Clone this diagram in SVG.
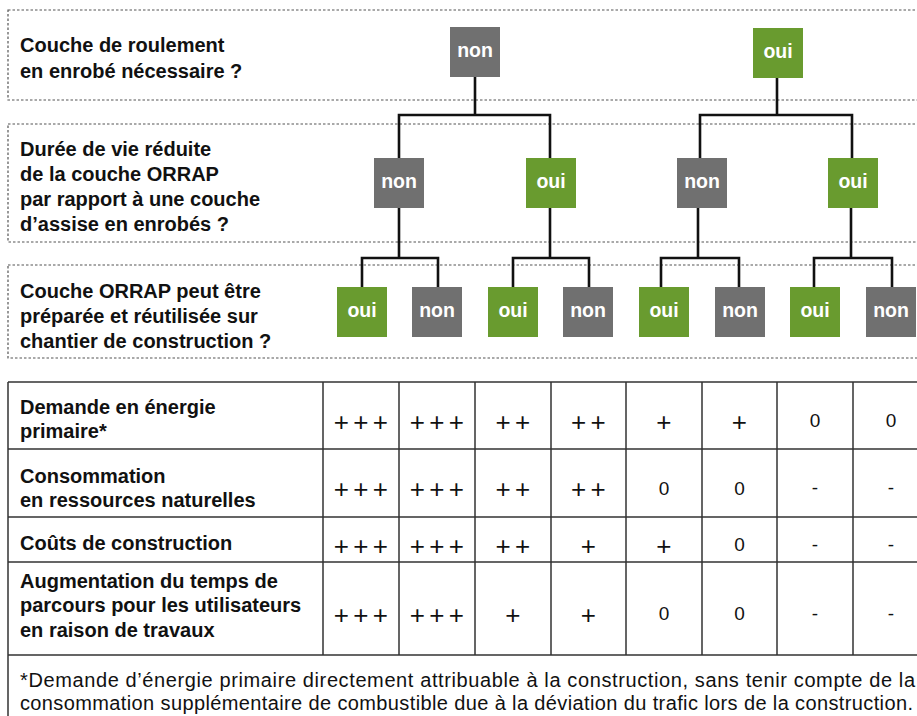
<svg xmlns="http://www.w3.org/2000/svg" width="917" height="716" viewBox="0 0 917 716">
<style>
.bg{fill:#ffffff}
.dash{fill:none;stroke:#555;stroke-width:1.2;stroke-dasharray:2.5 2}
.q{font-family:"Liberation Sans",Arial,sans-serif;font-weight:bold;font-size:20px;fill:#111}
.nn{fill:#707070}
.ny{fill:#699b2f}
.nt{font-family:"Liberation Sans",Arial,sans-serif;font-weight:bold;font-size:19.5px;fill:#fff;text-anchor:middle}
.con{fill:none;stroke:#111;stroke-width:2.6;stroke-linejoin:miter}
.tl{fill:none;stroke:#333;stroke-width:1.5}
.pl{font-family:"Liberation Sans",Arial,sans-serif;font-size:26px;letter-spacing:4.3px;fill:#111;text-anchor:middle}
.v{font-family:"Liberation Sans",Arial,sans-serif;font-size:19px;fill:#111;text-anchor:middle}
.fn{font-family:"Liberation Sans",Arial,sans-serif;font-size:20px;fill:#111}
</style>
<rect class="bg" x="0" y="0" width="917" height="716"/>

<g id="questions">
  <rect class="dash" x="8" y="10" width="1000" height="90"/>
  <rect class="dash" x="8" y="124" width="1000" height="118"/>
  <rect class="dash" x="8" y="265" width="1000" height="93"/>
</g>

<g id="q1">
  <text class="q" x="20" y="52">Couche de roulement</text>
  <text class="q" x="20" y="78">en enrobé nécessaire ?</text>
</g>
<g id="q2">
  <text class="q" x="20" y="156">Durée de vie réduite</text>
  <text class="q" x="20" y="181">de la couche ORRAP</text>
  <text class="q" x="20" y="206">par rapport à une couche</text>
  <text class="q" x="20" y="231">d’assise en enrobés ?</text>
</g>
<g id="q3">
  <text class="q" x="20" y="298">Couche ORRAP peut être</text>
  <text class="q" x="20" y="323">préparée et réutilisée sur</text>
  <text class="q" x="20" y="348">chantier de construction ?</text>
</g>

<g id="connectors">
  <path class="con" d="M475,77 V115 M399,158 V115 H550 V158"/>
  <path class="con" d="M777,78 V115 M700,158 V115 H852 V158"/>
  <path class="con" d="M399,208 V258 M362,287 V258 H438 V287"/>
  <path class="con" d="M550,208 V258 M513,287 V258 H589 V287"/>
  <path class="con" d="M698,208 V258 M661,287 V258 H739 V287"/>
  <path class="con" d="M851,208 V258 M814,287 V258 H892 V287"/>
</g>

<g id="n1-non"><rect class="nn" x="450" y="27" width="50" height="50"/><text class="nt" x="475" y="57">non</text></g>
<g id="n1-oui"><rect class="ny" x="753" y="28" width="50" height="50"/><text class="nt" x="778" y="58">oui</text></g>

<g id="n2-non-a"><rect class="nn" x="374" y="158" width="50" height="50"/><text class="nt" x="399" y="188">non</text></g>
<g id="n2-oui-a"><rect class="ny" x="526" y="158" width="50" height="50"/><text class="nt" x="551" y="188">oui</text></g>
<g id="n2-non-b"><rect class="nn" x="677" y="158" width="50" height="50"/><text class="nt" x="702" y="188">non</text></g>
<g id="n2-oui-b"><rect class="ny" x="828" y="158" width="50" height="50"/><text class="nt" x="853" y="188">oui</text></g>

<g id="n3-1"><rect class="ny" x="337" y="287" width="50" height="50"/><text class="nt" x="362" y="317">oui</text></g>
<g id="n3-2"><rect class="nn" x="412" y="287" width="50" height="50"/><text class="nt" x="437" y="317">non</text></g>
<g id="n3-3"><rect class="ny" x="488" y="287" width="50" height="50"/><text class="nt" x="513" y="317">oui</text></g>
<g id="n3-4"><rect class="nn" x="563" y="287" width="50" height="50"/><text class="nt" x="588" y="317">non</text></g>
<g id="n3-5"><rect class="ny" x="639" y="287" width="50" height="50"/><text class="nt" x="664" y="317">oui</text></g>
<g id="n3-6"><rect class="nn" x="715" y="287" width="50" height="50"/><text class="nt" x="740" y="317">non</text></g>
<g id="n3-7"><rect class="ny" x="790" y="287" width="50" height="50"/><text class="nt" x="815" y="317">oui</text></g>
<g id="n3-8"><rect class="nn" x="866" y="287" width="50" height="50"/><text class="nt" x="891" y="317">non</text></g>

<g id="table">
  <path class="tl" d="M8,382 V716 M8,382 H917 M8,449 H917 M8,517 H917 M8,562 H917 M8,655 H917"/>
  <path class="tl" d="M323,382 V655 M399,382 V655 M475,382 V655 M551,382 V655 M626,382 V655 M702,382 V655 M777,382 V655 M853,382 V655"/>

  <text class="q" x="20" y="414">Demande en énergie</text>
  <text class="q" x="20" y="438">primaire*</text>
  <text class="q" x="20" y="483">Consommation</text>
  <text class="q" x="20" y="507">en ressources naturelles</text>
  <text class="q" x="20" y="550">Coûts de construction</text>
  <text class="q" x="20" y="588">Augmentation du temps de</text>
  <text class="q" x="20" y="612">parcours pour les utilisateurs</text>
  <text class="q" x="20" y="637">en raison de travaux</text>

  <!-- row 1 -->
  <text class="pl" x="363" y="430.5">+++</text>
  <text class="pl" x="439" y="430.5">+++</text>
  <text class="pl" x="515" y="430.5">++</text>
  <text class="pl" x="590.5" y="430.5">++</text>
  <text class="pl" x="666" y="430.5">+</text>
  <text class="pl" x="741.5" y="430.5">+</text>
  <text class="v" x="815" y="426.5">0</text>
  <text class="v" x="891" y="426.5">0</text>
  <!-- row 2 -->
  <text class="pl" x="363" y="498">+++</text>
  <text class="pl" x="439" y="498">+++</text>
  <text class="pl" x="515" y="498">++</text>
  <text class="pl" x="590.5" y="498">++</text>
  <text class="v" x="664" y="494.5">0</text>
  <text class="v" x="739.5" y="494.5">0</text>
  <text class="v" x="815" y="494">-</text>
  <text class="v" x="891" y="494">-</text>
  <!-- row 3 -->
  <text class="pl" x="363" y="554.5">+++</text>
  <text class="pl" x="439" y="554.5">+++</text>
  <text class="pl" x="515" y="554.5">++</text>
  <text class="pl" x="590.5" y="554.5">+</text>
  <text class="pl" x="666" y="554.5">+</text>
  <text class="v" x="739.5" y="551">0</text>
  <text class="v" x="815" y="550.5">-</text>
  <text class="v" x="891" y="550.5">-</text>
  <!-- row 4 -->
  <text class="pl" x="363" y="623.5">+++</text>
  <text class="pl" x="439" y="623.5">+++</text>
  <text class="pl" x="515" y="623.5">+</text>
  <text class="pl" x="590.5" y="623.5">+</text>
  <text class="v" x="664" y="620">0</text>
  <text class="v" x="739.5" y="620">0</text>
  <text class="v" x="815" y="619.5">-</text>
  <text class="v" x="891" y="619.5">-</text>

  <text class="fn" x="20" y="687" textLength="895" lengthAdjust="spacing">*Demande d’énergie primaire directement attribuable à la construction, sans tenir compte de la</text>
  <text class="fn" x="20" y="710" textLength="893" lengthAdjust="spacing">consommation supplémentaire de combustible due à la déviation du trafic lors de la construction.</text>
</g>
</svg>
